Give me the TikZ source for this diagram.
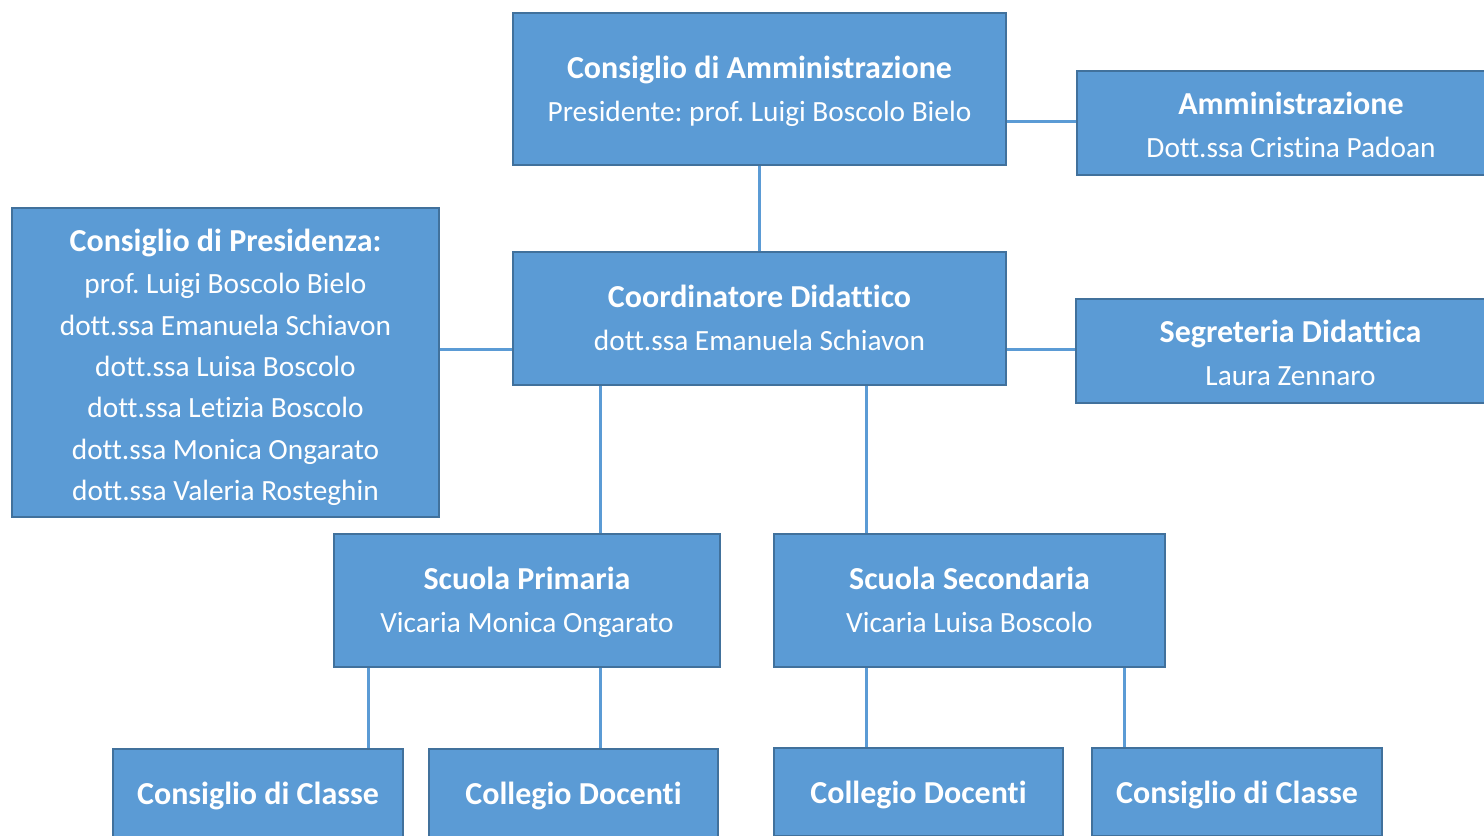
\documentclass[tikz,border=0pt]{standalone}
\usepackage{fontspec}
\setmainfont{Carlito}[RawFeature=-liga]
\definecolor{boxfill}{HTML}{5B9BD5}
\definecolor{boxline}{HTML}{41719C}
\definecolor{conn}{HTML}{5B9BD5}
\newcommand{\ttl}[2][0pt]{{\fontsize{24}{31}\selectfont\bfseries\rule{0pt}{\dimexpr 21.7pt+#1\relax}\strut #2}}
\newcommand{\rowtxt}[1]{\strut #1}
\begin{document}
\begin{tikzpicture}[x=0.75pt,y=-0.75pt,
  orgbox/.style={draw=boxline, line width=1.5pt, fill=boxfill, text=white, align=center,
    inner sep=0pt, font=\fontsize{22}{31}\selectfont\frenchspacing},
  link/.style={draw=conn, line width=2.25pt}]
\useasboundingbox (0,0) rectangle (1484,835);
\begin{scope}
\clip (0,0) rectangle (1484,835);
\node[orgbox, minimum width=369.75pt, minimum height=114pt] (cda) at (759.5,89)
  {\ttl[3.75pt]{Consiglio di Amministrazione}\\[1pt]\rowtxt{Presidente: prof. Luigi Boscolo Bielo}};
\node[orgbox, minimum width=321pt, minimum height=78pt] (amm) at (1291,123)
  {\ttl[6.75pt]{Amministrazione}\\[1pt]\rowtxt{Dott.ssa Cristina Padoan}};
\node[orgbox, minimum width=320.25pt, minimum height=231.75pt] (pres) at (225.5,362.5)
  {\ttl[7.5pt]{Consiglio di Presidenza:}\\[1pt]\rowtxt{prof. Luigi Boscolo Bielo}\\\rowtxt{dott.ssa Emanuela Schiavon}\\\rowtxt{dott.ssa Luisa Boscolo}\\\rowtxt{dott.ssa Letizia Boscolo}\\\rowtxt{dott.ssa Monica Ongarato}\\\rowtxt{dott.ssa Valeria Rosteghin}};
\node[orgbox, minimum width=369.75pt, minimum height=99.75pt] (coord) at (759.5,318.5)
  {\ttl[3pt]{Coordinatore Didattico}\\[1pt]\rowtxt{dott.ssa Emanuela Schiavon}};
\node[orgbox, minimum width=321.75pt, minimum height=78pt] (segr) at (1290.5,351)
  {\ttl[7.5pt]{Segreteria Didattica}\\[1pt]\rowtxt{Laura Zennaro}};
\node[orgbox, minimum width=289.5pt, minimum height=99.75pt] (prim) at (527,600.5)
  {\ttl[3pt]{Scuola Primaria}\\[1pt]\rowtxt{Vicaria Monica Ongarato}};
\node[orgbox, minimum width=293.25pt, minimum height=99.75pt] (sec) at (969.5,600.5)
  {\ttl[3pt]{Scuola Secondaria}\\[1pt]\rowtxt{Vicaria Luisa Boscolo}};
\node[orgbox, minimum width=217.5pt, minimum height=66pt] (ccl) at (258,793)
  {\ttl[4.5pt]{Consiglio di Classe}};
\node[orgbox, minimum width=216.75pt, minimum height=66pt] (cdl) at (573.5,793)
  {\ttl[4.5pt]{Collegio Docenti}};
\node[orgbox, minimum width=216.75pt, minimum height=66pt] (cdr) at (918.5,792)
  {\ttl[4.5pt]{Collegio Docenti}};
\node[orgbox, minimum width=217.5pt, minimum height=66pt] (ccr) at (1237,792)
  {\ttl[4.5pt]{Consiglio di Classe}};
\end{scope}
\draw[link] (cda.south) -- (coord.north);
\draw[link] (cda.east |- 0,121) -- (amm.west |- 0,121);
\draw[link] (pres.east |- 0,349) -- (coord.west |- 0,349);
\draw[link] (coord.east |- 0,349) -- (segr.west |- 0,349);
\draw[link] (coord.south -| 600,0) -- (prim.north -| 600,0);
\draw[link] (coord.south -| 866.5,0) -- (sec.north -| 866.5,0);
\draw[link] (prim.south -| 368,0) -- (ccl.north -| 368,0);
\draw[link] (prim.south -| 600,0) -- (cdl.north -| 600,0);
\draw[link] (sec.south -| 866,0) -- (cdr.north -| 866,0);
\draw[link] (sec.south -| 1124,0) -- (ccr.north -| 1124,0);
\end{tikzpicture}
\end{document}
